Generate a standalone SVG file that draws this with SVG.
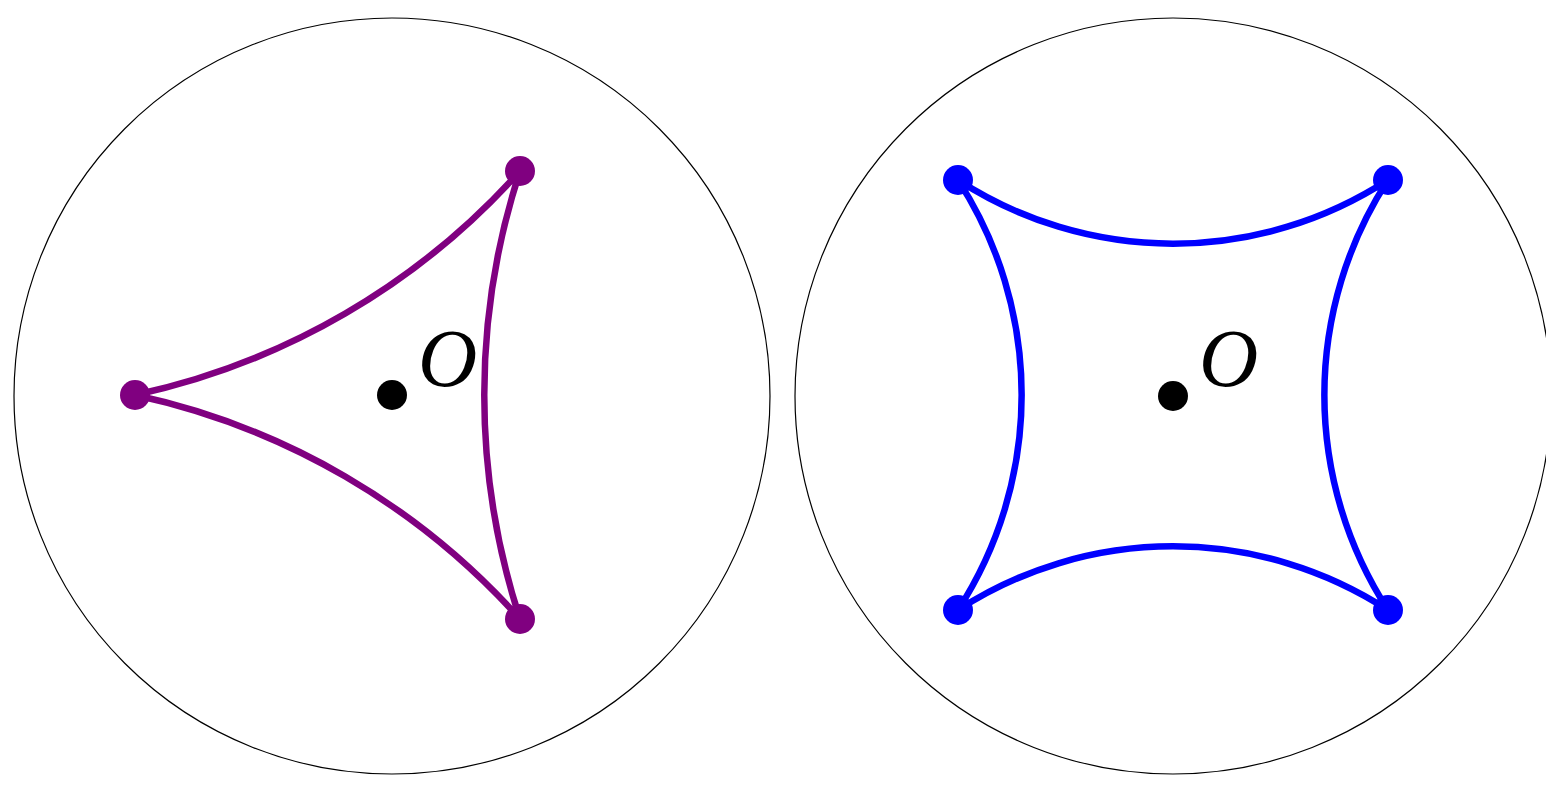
<svg xmlns="http://www.w3.org/2000/svg" width="1546" height="786" viewBox="0 0 1546 786">
<style>
.disk{fill:none;stroke:#000;stroke-width:1.2}
.tri{fill:none;stroke:#800080;stroke-width:6.5;stroke-linejoin:round}
.sq{fill:none;stroke:#0000FF;stroke-width:6.5;stroke-linejoin:round}
.lbl{font-family:"Liberation Serif","DejaVu Serif",serif;font-style:italic;font-size:82px;fill:#000}
</style>
<rect width="1546" height="786" fill="#fff"/>
<g id="disk-left">
<circle class="disk" cx="392" cy="396" r="378"/>
</g>
<g id="disk-right">
<circle class="disk" cx="1173" cy="396" r="378"/>
</g>
<g id="connectors">
<path class="tri" d="M520,171 A720,720 0 0 0 520,619 A720,720 0 0 0 135,395 A720,720 0 0 0 520,171 Z"/>
<path class="sq" d="M958,180 A395,395 0 0 0 1388,180 A395,395 0 0 0 1388,610 A395,395 0 0 0 958,610 A395,395 0 0 0 958,180 Z"/>
</g>
<g id="triangle-vertices" fill="#800080">
<circle cx="135" cy="395" r="15"/>
<circle cx="520" cy="171" r="15"/>
<circle cx="520" cy="619" r="15"/>
</g>
<g id="square-vertices" fill="#0000FF">
<circle cx="958" cy="180" r="15"/>
<circle cx="1388" cy="180" r="15"/>
<circle cx="958" cy="610" r="15"/>
<circle cx="1388" cy="610" r="15"/>
</g>
<g id="center-left">
<circle cx="392" cy="395" r="15" fill="#000"/>
<text class="lbl" x="418" y="386">O</text>
</g>
<g id="center-right">
<circle cx="1173" cy="396" r="15" fill="#000"/>
<text class="lbl" x="1199" y="386">O</text>
</g>
</svg>
